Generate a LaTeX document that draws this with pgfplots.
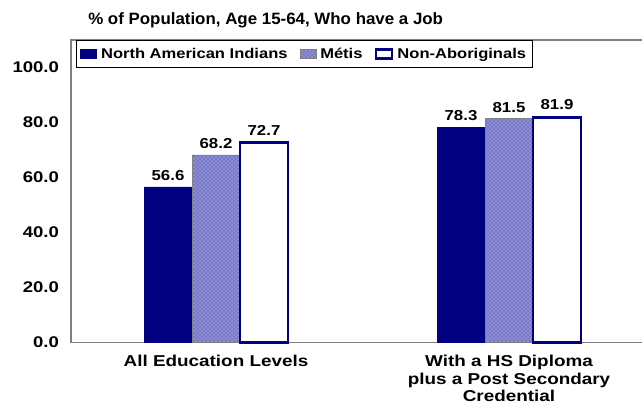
\documentclass[border=0pt]{standalone}
\usepackage{fontspec}
\setmainfont{Liberation Sans}
\newfontfamily\wideA[FakeStretch=1.2]{Liberation Sans}
\newfontfamily\wideB[FakeStretch=1.17]{Liberation Sans}
\newfontfamily\wideT[FakeStretch=1.03]{Liberation Sans}
\usepackage{pgfplots}
\usetikzlibrary{patterns}
\pgfplotsset{compat=1.18}
\definecolor{navy}{RGB}{0,0,128}
\definecolor{metis}{RGB}{120,120,200}
\definecolor{metisdot}{RGB}{215,215,245}
\definecolor{axgray}{RGB}{128,128,128}
\begin{document}
\begin{tikzpicture}
\begin{axis}[
  at={(0,0)}, anchor=south west,
  scale only axis,
  width=440pt, height=226.875pt,
  xmin=-0.4949, xmax=1.5074,
  ymin=0, ymax=110,
  ybar=0pt, bar width=36pt,
  xtick={0,1},
  xticklabels={All Education Levels, {With a HS Diploma\\plus a Post Secondary\\Credential}},
  x tick label style={align=center, font=\fontsize{11.8}{13.1}\wideA\bfseries, yshift=-6pt},
  ytick={0,20,40,60,80,100},
  y tick label style={font=\fontsize{11.6}{12}\wideA\bfseries, xshift=-5.5pt},
  /pgf/number format/assume math mode=true,
  yticklabel={\pgfmathprintnumber[fixed,fixed zerofill,precision=1]{\tick}},
  major tick length=0pt,
  axis line style={axgray, line width=0.8pt},
  nodes near coords,
  every node near coord/.append style={font=\fontsize{10.8}{12}\wideB\bfseries, black, yshift=1pt,
    /pgf/number format/.cd, fixed, fixed zerofill, precision=1, assume math mode=true},
  legend style={at={(rel axis cs:0,1)}, anchor=north west, xshift=3.75pt, yshift=0pt,
    legend columns=-1, draw=black, line width=0.6pt,
    font=\fontsize{10.6}{12}\wideB\bfseries,
    inner xsep=3pt, inner ysep=3.5pt,
    /tikz/every odd column/.append style={column sep=1pt},
    /tikz/every even column/.append style={column sep=7pt}},
  legend image code/.code={\draw[#1] (0pt,-3.5pt) rectangle (12pt,3.5pt);},
  clip=false,
]
\addplot[fill=navy, draw=navy, line width=0.5pt] coordinates {(0,56.6) (1,78.3)};
\addplot[fill=metis, draw=axgray, line width=0.5pt, postaction={pattern=crosshatch dots, pattern color=metisdot}] coordinates {(0,68.2) (1,81.5)};
\addplot[fill=white, draw=navy, line width=2.2pt] coordinates {(0,72.7) (1,81.9)};
\legend{North American Indians, Métis, Non-Aboriginals}
\end{axis}
\node[anchor=west, font=\fontsize{12.3}{14}\wideT\bfseries, inner sep=0pt] at (12.75pt,241.875pt) {\% of Population, Age 15-64, Who have a Job};
\pgfresetboundingbox
\path[use as bounding box] (-53.25pt,-55.875pt) rectangle (428.25pt,256.875pt);
\end{tikzpicture}
\end{document}
